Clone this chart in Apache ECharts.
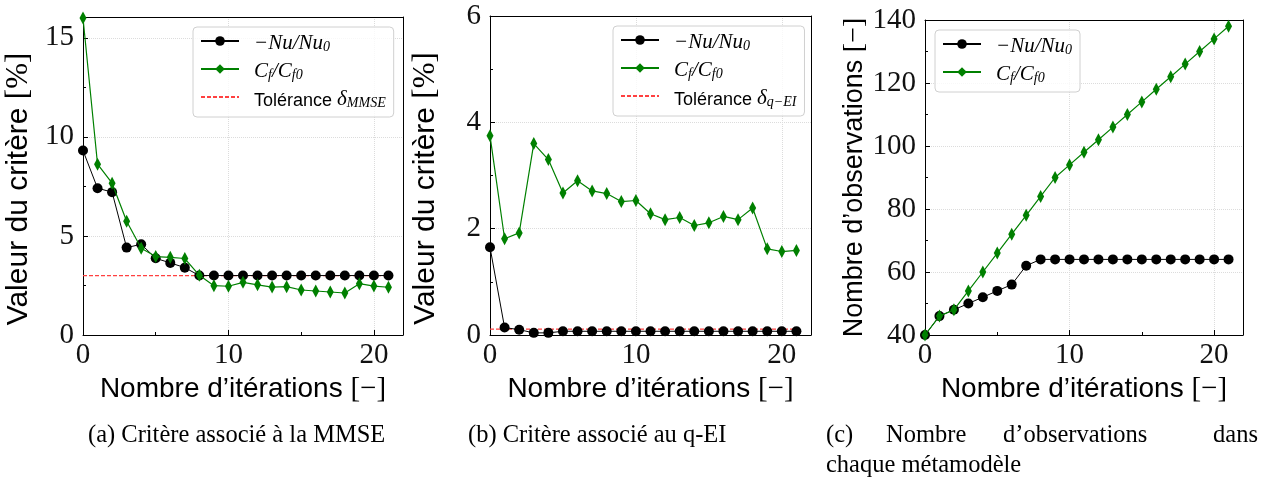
<!DOCTYPE html>
<html><head><meta charset="utf-8">
<script src="https://cdn.jsdelivr.net/npm/echarts@6/dist/echarts.min.js"></script>
<style>html,body{margin:0;padding:0;background:#fff}#c{width:1274px;height:482px}</style>
</head><body><div id="c"></div>
<script>
// ---- data ----
const iterations = [0,1,2,3,4,5,6,7,8,9,10,11,12,13,14,15,16,17,18,19,20,21];
const mmseNu = [9.31,7.41,7.21,4.41,4.58,3.87,3.64,3.40,3.0,3.0,3.0,3.0,3.0,3.0,3.0,3.0,3.0,3.0,3.0,3.0,3.0,3.0];
const mmseCf = [16.0,8.62,7.66,5.74,4.38,3.96,3.92,3.86,3.01,2.49,2.46,2.66,2.53,2.42,2.44,2.27,2.22,2.17,2.12,2.59,2.47,2.41];
const mmseTol = 3.0;
const qeiNu = [1.65,0.14,0.10,0.04,0.04,0.07,0.07,0.07,0.07,0.07,0.07,0.07,0.07,0.07,0.07,0.07,0.07,0.07,0.07,0.07,0.07,0.07];
const qeiCf = [3.75,1.81,1.92,3.60,3.30,2.67,2.90,2.71,2.66,2.51,2.53,2.28,2.17,2.21,2.06,2.11,2.23,2.17,2.39,1.62,1.57,1.59];
const qeiTol = 0.11;
const obsNu = [40,46,48,50,52,54,56,62,64,64,64,64,64,64,64,64,64,64,64,64,64,64];
const obsCf = [40,46,48,54,60,66,72,78,84,90,94,98,102,106,110,114,118,122,126,130,134,138];
const xTicks = [0,10,20];
const yTicksA = [0,5,10,15];
const yTicksB = [0,2,4,6];
const yTicksC = [40,60,80,100,120,140];
const captions = ['(a) Critère associé à la MMSE', '(b) Critère associé au q-EI'];
const captionC1 = ['(c)', 'Nombre', 'd’observations', 'dans'];
const captionC2 = 'chaque métamodèle';

const NU = '−Nu/Nu0', CF = 'Cf/Cf0', TOLA = 'Tolérance δMMSE', TOLB = 'Tolérance δq−EI';
const SERIF = "'Liberation Serif', 'DejaVu Serif', serif";
const SANS = "'Liberation Sans', 'DejaVu Sans', sans-serif";
const RED = '#ff4040';

const chart = echarts.init(document.getElementById('c'), null, {renderer: 'canvas'});

const grids = [
  {left: 83, top: 17, width: 320, height: 318},
  {left: 490, top: 16, width: 321, height: 319},
  {left: 925, top: 20, width: 318, height: 315}
].map(g => Object.assign({show: false}, g));

const yInfo = [
  {min: 0, max: 16.05, interval: 5, ticks: yTicksA, name: 'Valeur du critère ', unit: '[%]', pad: [0, 26, 0, 0], fs: 30},
  {min: 0, max: 6, interval: 2, ticks: yTicksB, name: 'Valeur du critère ', unit: '[%]', pad: [0, 26, 0, 0], fs: 30},
  {min: 40, max: 140, interval: 20, ticks: yTicksC, name: 'Nombre d’observations ', unit: '[−]', pad: [0, 0, 0, 0], fs: 27}
];

function titleRich(fs) {
  return {
    s: {fontFamily: SANS, fontSize: fs, color: '#000'},
    u: {fontFamily: SERIF, fontSize: fs + 1, color: '#000'}
  };
}

const frameLine = {lineStyle: {color: '#000', width: 1}};

const xAxes = [];
grids.forEach((g, i) => {
  xAxes.push({
    type: 'value', gridIndex: i, min: 0, max: 22, interval: 10,
    name: '{s|Nombre d’itérations }{u|[−]}', nameLocation: 'middle', nameGap: 36,
    nameTextStyle: {rich: titleRich(28)},
    axisLine: frameLine,
    axisTick: {inside: true, length: 5, lineStyle: {color: '#000'}},
    minorTick: {show: true, splitNumber: 2, length: 3, lineStyle: {color: '#000'}},
    splitLine: {show: true, lineStyle: {color: '#dcdcdc', type: 'dotted', width: 1}},
    axisLabel: {fontFamily: SERIF, fontSize: 29, color: '#111', margin: 6, showMaxLabel: false,
      formatter: v => xTicks.includes(v) ? String(v) : ''}
  });
  xAxes.push({
    type: 'value', gridIndex: i, position: 'top', min: 0, max: 22,
    axisLine: {show: true, onZero: false, lineStyle: {color: '#000', width: 1}},
    axisTick: {show: false}, axisLabel: {show: false}, splitLine: {show: false}
  });
});

const yAxes = [];
yInfo.forEach((y, i) => {
  yAxes.push({
    type: 'value', gridIndex: i, min: y.min, max: y.max, interval: y.interval,
    name: '{s|' + y.name + '}{u|' + y.unit + '}', nameLocation: 'middle', nameGap: 49,
    nameTextStyle: {rich: titleRich(y.fs), padding: y.pad},
    axisLine: frameLine,
    axisTick: {inside: true, length: 5, lineStyle: {color: '#000'}},
    minorTick: {show: true, splitNumber: 2, length: 3, lineStyle: {color: '#000'}},
    splitLine: {show: true, lineStyle: {color: '#dcdcdc', type: 'dotted', width: 1}},
    axisLabel: {fontFamily: SERIF, fontSize: 29, color: '#111', margin: 9,
      formatter: v => y.ticks.includes(v) ? String(v) : ''}
  });
  yAxes.push({
    type: 'value', gridIndex: i, position: 'right', min: y.min, max: y.max,
    axisLine: {show: true, onZero: false, lineStyle: {color: '#000', width: 1}},
    axisTick: {show: false}, axisLabel: {show: false}, splitLine: {show: false}
  });
});

function pairs(vals) { return iterations.map((x, k) => [x, vals[k]]); }
function nuSeries(i, vals) {
  return {name: NU, type: 'line', xAxisIndex: 2 * i, yAxisIndex: 2 * i, data: pairs(vals),
    symbol: 'circle', symbolSize: 10, showSymbol: true, z: 3, color: '#000',
    itemStyle: {color: '#000'}, lineStyle: {color: '#000', width: 1}, animation: false};
}
function cfSeries(i, vals) {
  return {name: CF, type: 'line', xAxisIndex: 2 * i, yAxisIndex: 2 * i, data: pairs(vals),
    symbol: 'diamond', symbolSize: [7, 13], showSymbol: true, z: 4, color: '#008000',
    itemStyle: {color: '#008000'}, lineStyle: {color: '#008000', width: 1.2}, animation: false};
}
function tolSeries(i, name, tol) {
  return {name: name, type: 'line', xAxisIndex: 2 * i, yAxisIndex: 2 * i,
    data: iterations.map(x => [x, tol]), symbol: 'none', z: 2, color: RED,
    lineStyle: {color: RED, width: 1.2, type: [4, 2]}, itemStyle: {color: RED}, animation: false};
}

const legRich = {
  m: {fontFamily: SERIF, fontStyle: 'italic', fontSize: 21, color: '#000', lineHeight: 26, verticalAlign: 'bottom'},
  sub: {fontFamily: SERIF, fontStyle: 'italic', fontSize: 14, color: '#000', lineHeight: 17, verticalAlign: 'bottom'},
  s: {fontFamily: SANS, fontSize: 18, color: '#000', lineHeight: 26, verticalAlign: 'bottom'}
};
const legLabels = {};
legLabels[NU] = '{m|−Nu/Nu}{sub|0}';
legLabels[CF] = '{m|C}{sub|f}{m|/C}{sub|f0}';
legLabels[TOLA] = '{s|Tolérance }{m|δ}{sub|MMSE}';
legLabels[TOLB] = '{s|Tolérance }{m|δ}{sub|q−EI}';

function legend(left, top, names) {
  return {
    orient: 'vertical', left: left, top: top, selectedMode: false,
    data: names.map(n => (n === TOLA || n === TOLB) ? {name: n, itemStyle: {opacity: 0}} : n),
    itemWidth: 38, itemHeight: 12, itemGap: 7,
    padding: [6, 8, 7, 7],
    backgroundColor: 'rgba(255,255,255,0.8)', borderColor: '#d0d0d0', borderWidth: 1, borderRadius: 4,
    formatter: n => legLabels[n],
    textStyle: {rich: legRich, padding: [0, 0, 0, 10]}
  };
}

const CAP = '24.5px ' + SERIF;
const graphics = [
  {type: 'text', left: 88, top: 423, style: {text: captions[0], font: CAP, fill: '#000'}},
  {type: 'text', left: 468, top: 423, style: {text: captions[1], font: CAP, fill: '#000'}},
  {type: 'text', left: 826, top: 423, style: {text: captionC1[0], font: CAP, fill: '#000'}},
  {type: 'text', left: 886, top: 423, style: {text: captionC1[1], font: CAP, fill: '#000'}},
  {type: 'text', left: 1003, top: 423, style: {text: captionC1[2], font: CAP, fill: '#000'}},
  {type: 'text', right: 16, top: 423, style: {text: captionC1[3], font: CAP, fill: '#000'}},
  {type: 'text', left: 826, top: 453, style: {text: captionC2, font: CAP, fill: '#000'}}
];

chart.setOption({
  animation: false,
  backgroundColor: '#fff',
  grid: grids,
  xAxis: xAxes,
  yAxis: yAxes,
  legend: [
    legend(193, 27, [NU, CF, TOLA]),
    legend(613, 26, [NU, CF, TOLB]),
    legend(935, 30, [NU, CF])
  ],
  series: [
    tolSeries(0, TOLA, mmseTol), nuSeries(0, mmseNu), cfSeries(0, mmseCf),
    tolSeries(1, TOLB, qeiTol), nuSeries(1, qeiNu), cfSeries(1, qeiCf),
    nuSeries(2, obsNu), cfSeries(2, obsCf)
  ],
  graphic: graphics
});
</script></body></html>
